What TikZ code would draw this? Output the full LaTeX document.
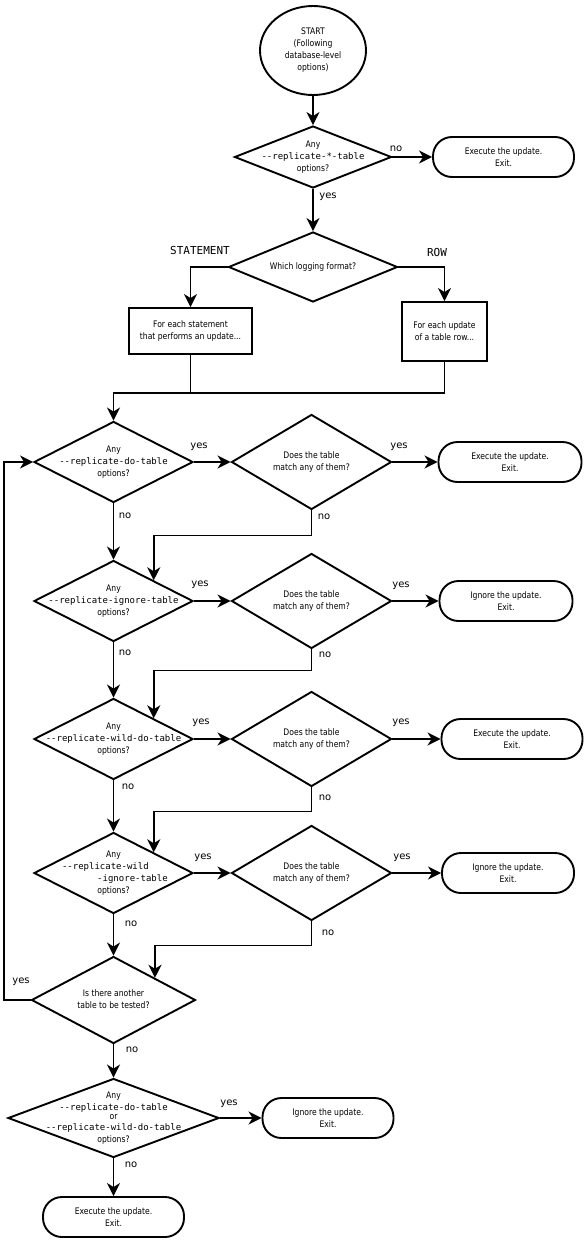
\documentclass[tikz,border=0pt]{standalone}
\usepackage{fontspec}
\setmainfont{DejaVu Sans}[FakeStretch=0.85]
\setmonofont{DejaVu Sans Mono}
\newfontfamily\labfont{DejaVu Sans}
\usetikzlibrary{shapes.geometric,arrows.meta}
\newcommand\dtxt[1]{\raisebox{-2.2pt}[0pt][0pt]{\makebox[0pt]{\begin{tabular}{@{}c@{}}#1\end{tabular}}}}
\begin{document}
\begin{tikzpicture}[x=1pt,y=-1pt,
  base/.style={draw, line width=1.9pt, font=\fontsize{9}{12}\selectfont},
  dia/.style={base, diamond, inner sep=0pt},
  exitbox/.style={base, rectangle, rounded corners=19pt, minimum height=40pt, align=center, inner sep=0pt},
  stepbox/.style={base, rectangle, align=center, inner sep=0pt},
  arr/.style={line width=1.9pt, -{Stealth[length=13pt,width=13pt,inset=4pt]}},
  conn/.style={line width=1.9pt},
  lab/.style={font=\labfont\fontsize{10}{12}\selectfont, inner sep=0pt},
  fmt/.style={font=\ttfamily\fontsize{11}{13}\selectfont, inner sep=0pt}]
\fill[white] (0,0) rectangle (585,1245);
\useasboundingbox (0,0) rectangle (585,1245);

% start
\node[base, ellipse, minimum width=106pt, minimum height=89pt, align=center, inner sep=0pt] (st) at (313,50.5)
  {START\\(Following\\database-level\\options)};

% first decision
\node[dia, minimum width=157pt, minimum height=62pt] (d1) at (313,157)
  {\dtxt{Any\\\texttt{--replicate-*-table}\\options?}};
\node[exitbox, minimum width=141pt] (e1) at (503.5,157) {Execute the update.\\Exit.};

% logging format
\node[dia, minimum width=169pt, minimum height=70pt] (d2) at (313,267)
  {\dtxt{Which logging format?}};
\node[stepbox, minimum width=123pt, minimum height=46pt] (b1) at (190.5,331)
  {For each statement\\that performs an update...};
\node[stepbox, minimum width=85pt, minimum height=59pt] (b2) at (444.5,331.5)
  {For each update\\of a table row...};
\coordinate (mg) at (113.5,393);

% row 1
\node[dia, minimum width=159pt, minimum height=81pt] (d3) at (113.5,462)
  {\dtxt{Any\\\texttt{--replicate-do-table}\\options?}};
\node[dia, minimum width=160pt, minimum height=95pt] (d4) at (311.5,462)
  {\dtxt{Does the table\\match any of them?}};
\node[exitbox, minimum width=143pt] (e2) at (510,462) {Execute the update.\\Exit.};

% row 2
\node[dia, minimum width=159pt, minimum height=81pt] (d5) at (113.5,601)
  {\dtxt{Any\\\texttt{--replicate-ignore-table}\\options?}};
\node[dia, minimum width=160pt, minimum height=95pt] (d6) at (311.5,601)
  {\dtxt{Does the table\\match any of them?}};
\node[exitbox, minimum width=133pt] (e3) at (506,601) {Ignore the update.\\Exit.};

% row 3
\node[dia, minimum width=159pt, minimum height=81pt] (d7) at (113.5,739)
  {\dtxt{Any\\\texttt{--replicate-wild-do-table}\\options?}};
\node[dia, minimum width=160pt, minimum height=95pt] (d8) at (311.5,739)
  {\dtxt{Does the table\\match any of them?}};
\node[exitbox, minimum width=141pt] (e4) at (512,739) {Execute the update.\\Exit.};

% row 4
\node[dia, minimum width=159pt, minimum height=81pt] (d9) at (113.5,873)
  {\dtxt{Any\\\texttt{--replicate-wild\hphantom{---}}\\\texttt{\hphantom{-------}-ignore-table}\\options?}};
\node[dia, minimum width=160pt, minimum height=95pt] (d10) at (311.5,873)
  {\dtxt{Does the table\\match any of them?}};
\node[exitbox, minimum width=132pt] (e5) at (508,873) {Ignore the update.\\Exit.};

% another table?
\node[dia, minimum width=164pt, minimum height=87pt] (d11) at (113.5,1000)
  {\dtxt{Is there another\\table to be tested?}};

% final decision
\node[dia, minimum width=211pt, minimum height=79pt] (d12) at (113.5,1118)
  {\dtxt{Any\\\texttt{--replicate-do-table}\\[-3pt]or\\[-1pt]\texttt{--replicate-wild-do-table}\\options?}};
\node[exitbox, minimum width=131pt] (e6) at (328,1118) {Ignore the update.\\Exit.};
\node[exitbox, minimum width=141pt] (e7) at (113.5,1217) {Execute the update.\\Exit.};

% connectors
\draw[arr] (st.south) -- (d1.north);
\draw[arr] (d1.east) -- (e1.west);
\draw[arr] (d1.south) -- (d2.north);
\draw[arr] (d2.west) -| (b1.north);
\draw[arr] (d2.east) -| (b2.north);
\draw[conn] (b1.south) -- (b1.south |- mg);
\draw[arr] (b2.south) |- (mg) -- (d3.north);

\draw[arr] (d3.east) -- (d4.west);
\draw[arr] (d4.east) -- (e2.west);
\draw[arr] (d3.south) -- (d5.north);
\draw[arr] (d4.south) -- ++(0,25) -| (d5.north east);

\draw[arr] (d5.east) -- (d6.west);
\draw[arr] (d6.east) -- (e3.west);
\draw[arr] (d5.south) -- (d7.north);
\draw[arr] (d6.south) -- ++(0,21) -| (d7.north east);

\draw[arr] (d7.east) -- (d8.west);
\draw[arr] (d8.east) -- (e4.west);
\draw[arr] (d7.south) -- (d9.north);
\draw[arr] (d8.south) -- ++(0,24) -| (d9.north east);

\draw[arr] (d9.east) -- (d10.west);
\draw[arr] (d10.east) -- (e5.west);
\draw[arr] (d9.south) -- (d11.north);
\draw[arr] (d10.south) -- ++(0,24) -| (d11.north east);

\draw[arr] (d11.west) -- ++(-27,0) |- (d3.west);
\draw[arr] (d11.south) -- (d12.north);
\draw[arr] (d12.east) -- (e6.west);
\draw[arr] (d12.south) -- (e7.north);

% labels
\node[lab] (l1) at (396,149) {no};
\node[lab] (l2) at (328,197) {yes};
\node[fmt] (l3) at (200,250) {STATEMENT};
\node[fmt] (l4) at (437,252) {ROW};
\node[lab] (l5) at (199,447) {yes};
\node[lab] (l6) at (399,447) {yes};
\node[lab] (l7) at (125,516) {no};
\node[lab] (l8) at (324,517) {no};
\node[lab] (l9) at (200,585) {yes};
\node[lab] (l10) at (401,586) {yes};
\node[lab] (l11) at (125,653) {no};
\node[lab] (l12) at (325,655) {no};
\node[lab] (l13) at (201,723) {yes};
\node[lab] (l14) at (401,723) {yes};
\node[lab] (l15) at (128,787) {no};
\node[lab] (l16) at (325,798) {no};
\node[lab] (l17) at (203,858) {yes};
\node[lab] (l18) at (402,858) {yes};
\node[lab] (l19) at (131,924) {no};
\node[lab] (l20) at (328,933) {no};
\node[lab] (l21) at (21,982) {yes};
\node[lab] (l22) at (132,1050) {no};
\node[lab] (l23) at (229,1104) {yes};
\node[lab] (l24) at (131,1165) {no};
\end{tikzpicture}
\end{document}
